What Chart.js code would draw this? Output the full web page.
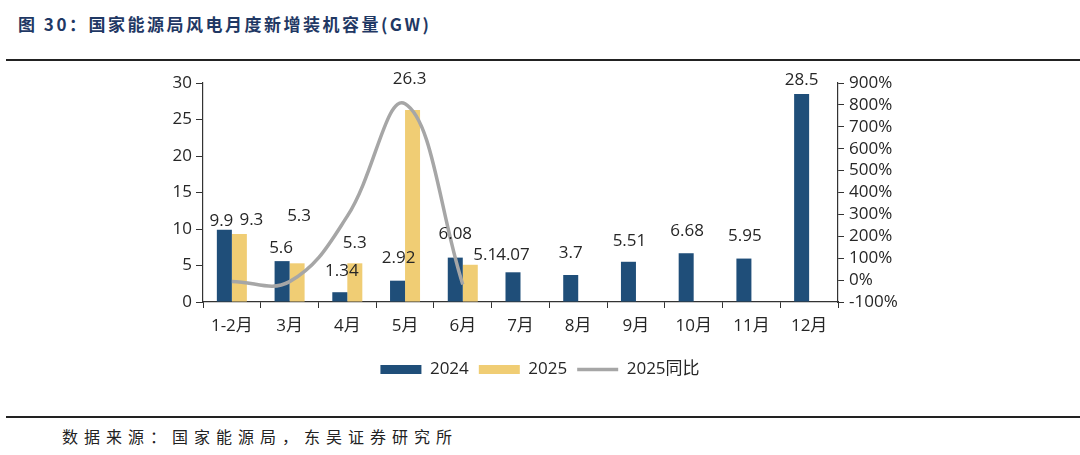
<!DOCTYPE html>
<html>
<head>
<meta charset="utf-8">
<script src="https://cdn.jsdelivr.net/npm/chart.js@4.4.1/dist/chart.umd.min.js"></script>
<style>
  html, body { margin: 0; padding: 0; background: #fff; }
  body { width: 1080px; height: 455px; position: relative; overflow: hidden; }
  #title {
    position: absolute; left: 18px; top: 11px;
    font: 700 17px "Noto Sans CJK SC", sans-serif; letter-spacing: 2.5px;
    color: #1f3864;
  }
  .rule { position: absolute; left: 6px; right: 0; height: 2px; background: #222; }
  #source {
    position: absolute; left: 62px; top: 424px;
    font: 400 16px "Noto Sans CJK SC", sans-serif; letter-spacing: 6px;
    color: #222;
  }
  #wrap { position: absolute; left: 0; top: 60px; width: 1080px; height: 340px; }
</style>
</head>
<body>
<div id="title">图 30：国家能源局风电月度新增装机容量(GW)</div>
<div class="rule" style="top:59px"></div>
<div id="wrap"><canvas id="chart"></canvas></div>
<div class="rule" style="top:416px"></div>
<div id="source">数据来源：国家能源局，东吴证券研究所</div>

<script>
const months = ["1-2月", "3月", "4月", "5月", "6月", "7月", "8月", "9月", "10月", "11月", "12月"];
const added2024 = [9.9, 5.6, 1.34, 2.92, 6.08, 4.07, 3.7, 5.51, 6.68, 5.95, 28.5];
const added2025 = [9.3, 5.3, 5.3, 26.3, 5.1, null, null, null, null, null, null];
const yoy2025 = [-6, -7, 292, 805, -20, null, null, null, null, null, null];

// label nudges (dx, dy above bar top)
const shift2024 = [[-3, 9], [-1, 13], [2, 21], [1, 23], [0, 23], [0, 17], [0, 22], [1, 21], [1, 22], [1, 22], [0, 14]];
const shift2025 = [[12, 14], [2, 47], [0, 20], [-3, 31], [15, 10]];

const textColor = "#262626";
const tickFont = { family: "'Open Sans', 'Noto Sans CJK SC', sans-serif", size: 17 };

const barLabels = {
  id: "barLabels",
  afterDatasetsDraw(chart) {
    const ctx = chart.ctx;
    ctx.save();
    ctx.font = "17px 'Open Sans', sans-serif";
    ctx.fillStyle = textColor;
    ctx.textAlign = "center";
    ctx.textBaseline = "middle";
    [[0, shift2024], [1, shift2025]].forEach(([di, shifts]) => {
      const meta = chart.getDatasetMeta(di);
      const values = chart.data.datasets[di].data;
      meta.data.forEach((bar, i) => {
        if (values[i] == null) return;
        const s = shifts[i] || [0, 20];
        ctx.fillText(String(values[i]), bar.x + s[0], bar.y - s[1]);
      });
    });
    ctx.restore();
  }
};

new Chart(document.getElementById("chart"), {
  type: "bar",
  data: {
    labels: months,
    datasets: [
      {
        label: "2024",
        data: added2024,
        backgroundColor: "#1f4e79",
        yAxisID: "y",
        order: 1,
        categoryPercentage: 0.52,
        barPercentage: 1,
      },
      {
        label: "2025",
        data: added2025,
        backgroundColor: "#f0cd74",
        yAxisID: "y",
        order: 1,
        categoryPercentage: 0.52,
        barPercentage: 1,
      },
      {
        type: "line",
        label: "2025同比",
        data: yoy2025,
        borderColor: "#a6a6a6",
        backgroundColor: "#a6a6a6",
        borderWidth: 3.5,
        pointRadius: 0,
        tension: 0.4,
        yAxisID: "y1",
        order: 0,
      },
    ],
  },
  options: {
    responsive: true,
    maintainAspectRatio: false,
    animation: false,
    layout: { padding: { top: 23, bottom: 12, left: 0, right: 0 } },
    plugins: {
      tooltip: { enabled: false },
      legend: {
        position: "bottom",
        labels: {
          usePointStyle: true,
          pointStyleWidth: 41,
          boxHeight: 9,
          padding: 10,
          color: textColor,
          font: { family: "'Open Sans', 'Noto Sans CJK SC', sans-serif", size: 17 },
          sort: (a, b) => a.datasetIndex - b.datasetIndex,
          generateLabels(chart) {
            const items = Chart.defaults.plugins.legend.labels.generateLabels(chart);
            return items.map((it) => {
              if (it.datasetIndex === 2) {
                it.pointStyle = "line";
                it.strokeStyle = "#a6a6a6";
                it.lineWidth = 3.5;
              } else {
                it.pointStyle = "rect";
                it.lineWidth = 0;
              }
              return it;
            });
          },
        },
      },
    },
    scales: {
      x: {
        grid: { display: true, drawOnChartArea: false, offset: true, tickLength: 6, color: "#333" },
        border: { display: true, color: "#333", width: 1.2 },
        ticks: { color: textColor, font: tickFont, padding: 8, maxRotation: 0, autoSkip: false },
        afterFit(scale) { scale.height = 49; },
      },
      y: {
        position: "left",
        min: 0,
        max: 30,
        ticks: { stepSize: 5, color: textColor, font: tickFont, padding: 4, autoSkip: false },
        grid: { display: true, drawOnChartArea: false, tickLength: 7, color: "#333" },
        border: { display: true, color: "#333", width: 1.2 },
        afterFit(scale) { scale.width = 203; },
      },
      y1: {
        position: "right",
        min: -100,
        max: 900,
        ticks: { stepSize: 100, color: textColor, font: tickFont, padding: 5, autoSkip: false, callback: (v) => v + "%" },
        grid: { display: true, drawOnChartArea: false, tickLength: 6, color: "#333" },
        border: { display: true, color: "#333", width: 1.2 },
        afterFit(scale) { scale.width = 1080 - 838; },
      },
    },
  },
  plugins: [barLabels],
});
</script>
</body>
</html>
